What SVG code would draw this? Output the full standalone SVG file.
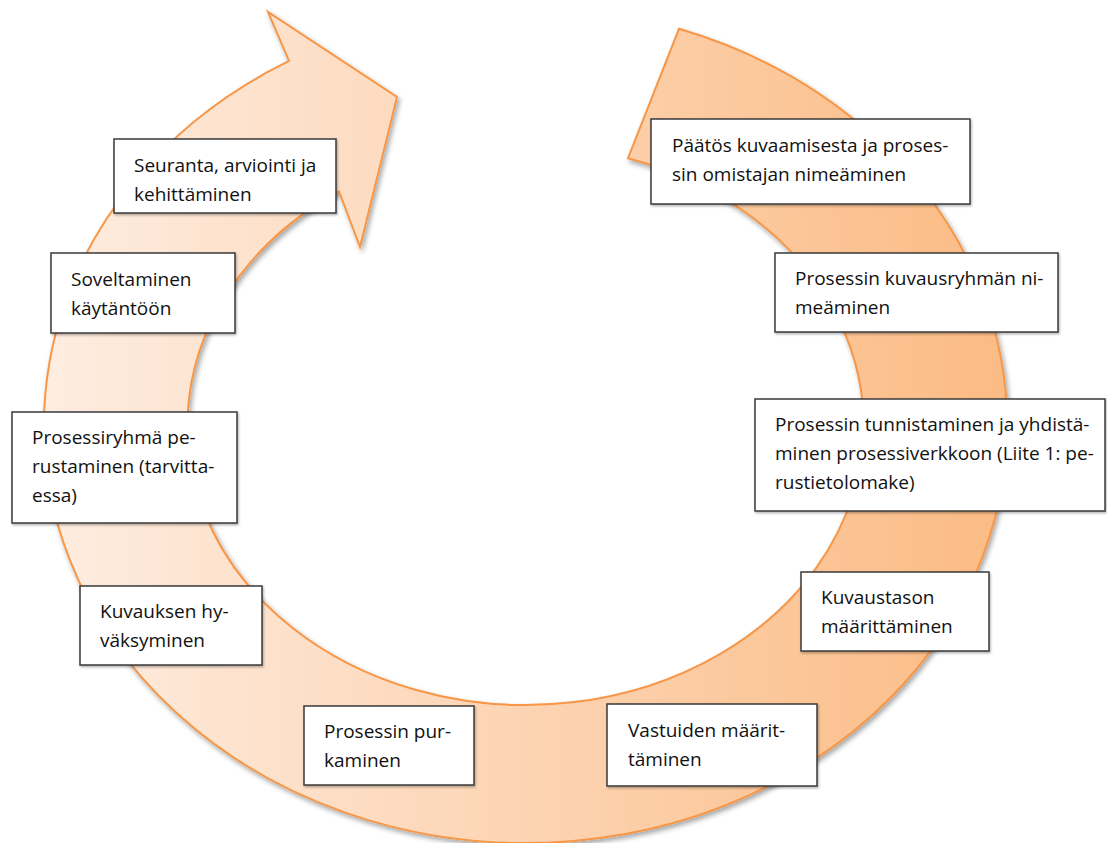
<svg xmlns="http://www.w3.org/2000/svg" width="1107" height="843" viewBox="0 0 1107 843">
  <defs>
    <linearGradient id="bandFill" gradientUnits="userSpaceOnUse" x1="44" y1="0" x2="1007" y2="0">
      <stop offset="0" stop-color="#feede1"/>
      <stop offset="1" stop-color="#fbbb84"/>
    </linearGradient>
    <filter id="bandShadow" x="-5%" y="-5%" width="110%" height="110%">
      <feDropShadow dx="2" dy="3" stdDeviation="2.5" flood-color="#000" flood-opacity="0.35"/>
    </filter>
    <filter id="boxShadow" x="-5%" y="-10%" width="110%" height="125%">
      <feDropShadow dx="1" dy="1.5" stdDeviation="1" flood-color="#000" flood-opacity="0.3"/>
    </filter>
  </defs>
  <style>
    .box { fill: #ffffff; stroke: #3a3a3a; stroke-width: 1.5; filter: url(#boxShadow); }
    .lbl { font-family: "Open Sans", "Noto Sans", "Liberation Sans", sans-serif; font-size: 19px; fill: #111111; }
  </style>

  <rect width="1107" height="843" fill="#ffffff"/>

  <!-- circular process arrow: tail at top right, clockwise round to the head at top left -->
  <g id="connectors">
    <path id="cycle-arrow" fill="url(#bandFill)" stroke="#f79646" stroke-width="2" stroke-linejoin="miter" filter="url(#bandShadow)"
      d="M 679 28.8
         A 481.5 418 0 1 1 289 60.9
         L 268 12
         L 397 97
         L 360 247
         L 339 191.5
         A 338 280 0 1 0 628 158.2
         Z"/>
  </g>

  <g id="node-seuranta">
    <rect class="box" x="114" y="139" width="222" height="74"/>
    <text class="lbl" x="134" y="172">Seuranta, arviointi ja</text>
    <text class="lbl" x="134" y="201">kehittäminen</text>
  </g>

  <g id="node-soveltaminen">
    <rect class="box" x="51" y="253" width="184" height="80"/>
    <text class="lbl" x="71" y="286">Soveltaminen</text>
    <text class="lbl" x="71" y="315">käytäntöön</text>
  </g>

  <g id="node-prosessiryhma">
    <rect class="box" x="12" y="412" width="225" height="111"/>
    <text class="lbl" x="32" y="444">Prosessiryhmä pe-</text>
    <text class="lbl" x="32" y="473">rustaminen (tarvitta-</text>
    <text class="lbl" x="32" y="502">essa)</text>
  </g>

  <g id="node-hyvaksyminen">
    <rect class="box" x="80" y="586" width="182" height="79"/>
    <text class="lbl" x="100" y="618">Kuvauksen hy-</text>
    <text class="lbl" x="100" y="647">väksyminen</text>
  </g>

  <g id="node-purkaminen">
    <rect class="box" x="304" y="706" width="170" height="79"/>
    <text class="lbl" x="324" y="738">Prosessin pur-</text>
    <text class="lbl" x="324" y="767">kaminen</text>
  </g>

  <g id="node-vastuut">
    <rect class="box" x="607" y="704" width="210" height="82"/>
    <text class="lbl" x="628" y="737">Vastuiden määrit-</text>
    <text class="lbl" x="628" y="766">täminen</text>
  </g>

  <g id="node-kuvaustaso">
    <rect class="box" x="801" y="572" width="188" height="79"/>
    <text class="lbl" x="821" y="604">Kuvaustason</text>
    <text class="lbl" x="821" y="633">määrittäminen</text>
  </g>

  <g id="node-tunnistaminen">
    <rect class="box" x="755" y="399" width="350" height="112"/>
    <text class="lbl" x="775" y="431">Prosessin tunnistaminen ja yhdistä-</text>
    <text class="lbl" x="775" y="460">minen prosessiverkkoon (Liite 1: pe-</text>
    <text class="lbl" x="775" y="489">rustietolomake)</text>
  </g>

  <g id="node-kuvausryhma">
    <rect class="box" x="775" y="253" width="283" height="79"/>
    <text class="lbl" x="795" y="285">Prosessin kuvausryhmän ni-</text>
    <text class="lbl" x="795" y="314">meäminen</text>
  </g>

  <g id="node-paatos">
    <rect class="box" x="651" y="119" width="319" height="85"/>
    <text class="lbl" x="672" y="152">Päätös kuvaamisesta ja proses-</text>
    <text class="lbl" x="672" y="181">sin omistajan nimeäminen</text>
  </g>
</svg>
